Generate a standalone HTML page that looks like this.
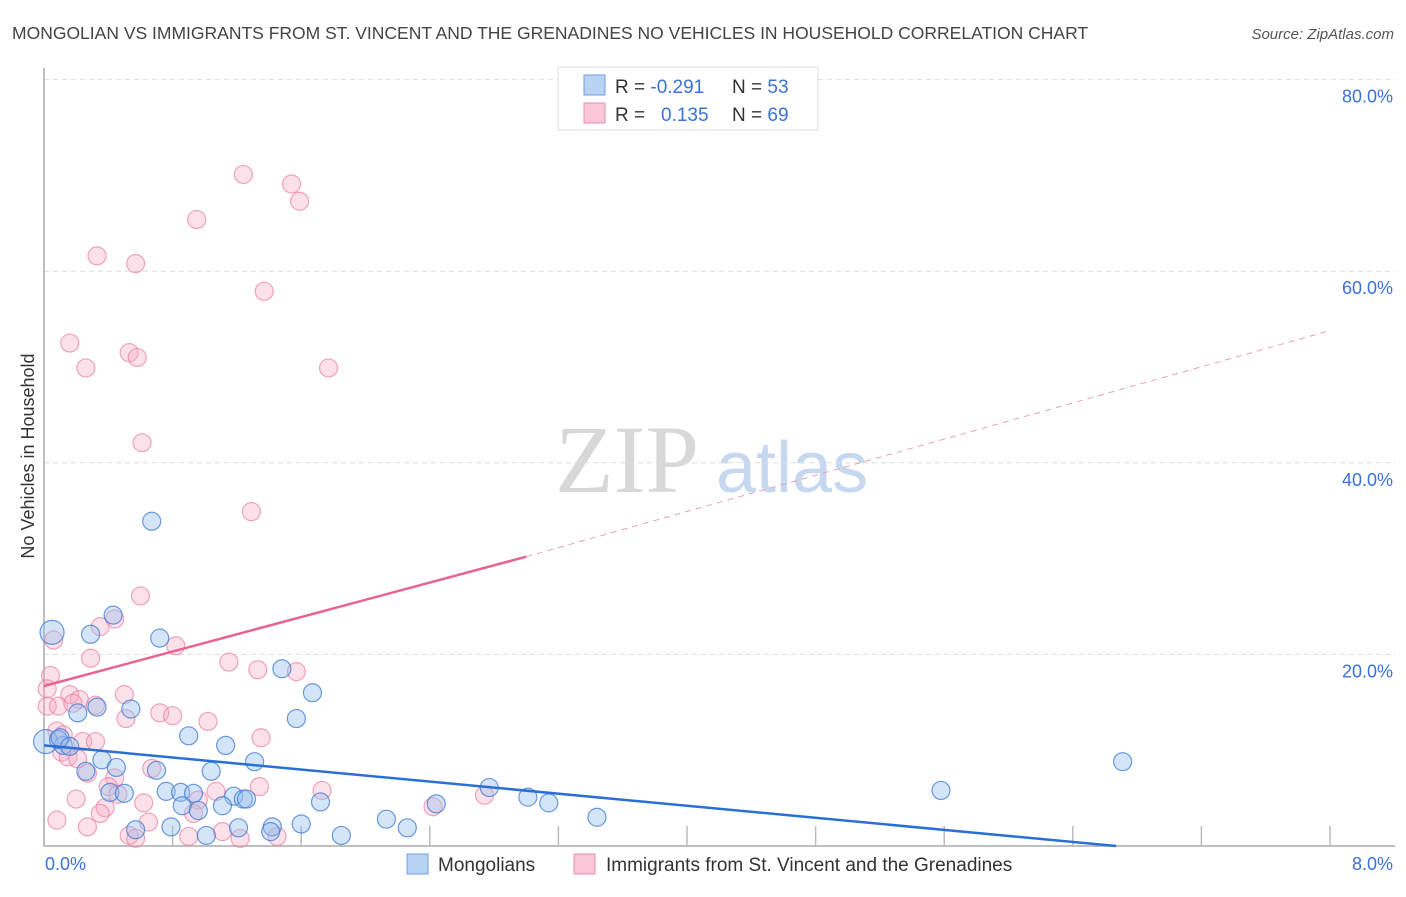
<!DOCTYPE html>
<html><head><meta charset="utf-8"><style>
body{margin:0;background:#fff;font-family:"Liberation Sans",sans-serif;}
svg text{font-family:"Liberation Sans",sans-serif;}
</style></head><body>
<svg id="c" width="1406" height="892" viewBox="0 0 1406 892" xmlns="http://www.w3.org/2000/svg">
<text x="12" y="39" font-size="17.5" fill="#444">MONGOLIAN VS IMMIGRANTS FROM ST. VINCENT AND THE GRENADINES NO VEHICLES IN HOUSEHOLD CORRELATION CHART</text>
<text x="1394" y="39" font-size="15" fill="#555" text-anchor="end" font-style="italic">Source: ZipAtlas.com</text>
<text transform="translate(34,456) rotate(-90)" font-size="18" fill="#333" text-anchor="middle">No Vehicles in Household</text>
<g>
<text x="555" y="492" font-size="96" fill="#d8d8d8" font-family="Liberation Serif,serif" style="font-family:'Liberation Serif',serif">ZIP</text>
<text x="716" y="492" font-size="72" fill="#c5d8f0">atlas</text>
</g>
<g id="grid"></g><g id="axes"></g><g id="marks"></g><g id="lines"></g>
<g>
<rect x="558" y="67" width="260" height="63" fill="#fff" stroke="#ddd"/>
<rect x="584" y="75" width="21" height="20" fill="#b9d3f5" stroke="#6f9ee0"/>
<rect x="584" y="103" width="21" height="20" fill="#fbc6d6" stroke="#ea8fab"/>
<text x="615" y="93" font-size="19" fill="#333">R = <tspan fill="#3a72d8">-0.291</tspan><tspan x="732">N = </tspan><tspan fill="#3a72d8">53</tspan></text>
<text x="615" y="121" font-size="19" fill="#333">R = <tspan x="661" fill="#3a72d8">0.135</tspan><tspan x="732">N = </tspan><tspan fill="#3a72d8">69</tspan></text>
</g>
<g>
<rect x="407" y="854" width="21" height="20" fill="#b9d3f5" stroke="#6f9ee0"/>
<text x="438" y="871" font-size="19" fill="#333">Mongolians</text>
<rect x="574" y="854" width="21" height="20" fill="#fbc6d6" stroke="#ea8fab"/>
<text x="606" y="871" font-size="19" fill="#333">Immigrants from St. Vincent and the Grenadines</text>
</g>
</svg>
<script>
const yTicks=[20,40,60,80];
const yTickLabels=["20.0%","40.0%","60.0%","80.0%"];
const xEndLabels=["0.0%","8.0%"];
const blueX=[0.05,0.01,0.67,0.43,0.29,0.72,1.48,1.67,1.57,0.33,0.21,0.54,0.90,1.13,0.12,0.09,0.36,0.45,0.70,1.04,1.31,0.26,0.41,0.50,0.76,0.85,0.93,1.18,1.24,1.26,1.72,0.86,1.11,0.96,2.44,2.77,3.01,3.14,3.44,2.13,2.26,1.60,1.42,1.41,1.21,1.01,0.79,0.57,1.85,5.58,6.71,0.10,0.16];
const blueY=[22.3,10.9,33.9,24.1,22.1,21.7,18.5,16.0,13.3,14.5,13.9,14.3,11.5,10.5,10.5,11.1,9.0,8.2,7.9,7.8,8.8,7.8,5.6,5.5,5.7,5.6,5.5,5.2,4.9,4.9,4.6,4.2,4.2,3.7,4.4,6.1,5.1,4.5,3.0,2.8,1.9,2.3,2.0,1.5,1.9,1.1,2.0,1.7,1.1,5.8,8.8,11.3,10.4];
const blueR=[12,12,9,9,9,9,9,9,9,9,9,9,9,9,9,9,9,9,9,9,9,9,9,9,9,9,9,9,9,9,9,9,9,9,9,9,9,9,9,9,9,9,9,9,9,9,9,9,9,9,9,9,9];
const pinkX=[1.24,1.54,1.59,0.95,0.33,0.57,1.37,0.16,0.53,0.58,0.26,1.77,0.61,1.29,0.60,0.44,0.06,0.35,0.82,0.29,1.15,1.33,1.57,0.04,0.02,0.16,0.22,0.50,0.02,0.09,0.18,0.32,0.51,0.72,0.80,1.02,1.35,0.08,0.12,0.24,0.32,0.11,0.15,0.21,0.27,0.44,0.67,0.40,0.46,1.07,0.96,1.34,1.73,2.74,2.42,0.20,0.62,0.38,0.35,0.93,0.65,0.27,0.53,0.57,0.90,1.11,1.22,1.45,0.08];
const pinkY=[70.1,69.1,67.3,65.4,61.6,60.8,57.9,52.5,51.5,51.0,49.9,49.9,42.1,34.9,26.1,23.7,21.5,22.9,20.9,19.6,19.2,18.4,18.2,17.8,16.4,15.8,15.3,15.8,14.6,14.6,14.9,14.7,13.3,13.9,13.6,13.0,11.3,12.0,11.6,10.9,10.9,9.8,9.3,9.1,7.6,7.1,8.1,6.2,5.4,5.7,4.8,6.2,5.8,5.3,4.1,4.9,4.5,4.0,3.4,3.4,2.5,2.0,1.1,0.8,1.0,1.5,0.8,1.0,2.7];
const blueTrend=[[0,10.5],[6.67,0]];
const pinkTrendSolid=[[0,16.7],[3.0,30.2]];
const pinkTrendDashed=[[3.0,30.2],[8.0,53.8]];
const NS="http://www.w3.org/2000/svg";
const X0=44,X1=1330,Y0=846,PPY=9.58;
const sx=v=>X0+(X1-X0)*v/8;
const sy=v=>Y0-v*PPY;
function mk(tag,attrs,parent){const e=document.createElementNS(NS,tag);for(const k in attrs)e.setAttribute(k,attrs[k]);document.getElementById(parent).appendChild(e);return e;}
yTicks.forEach((t,i)=>{
 const g=mk('line',{x1:X0,x2:1395,y1:sy(t),y2:sy(t),stroke:'#ddd','stroke-dasharray':'5,4'},'grid');
 
 
 const l=mk('text',{x:1393,y:sy(t)+23,'font-size':18,fill:'#3a72d8','text-anchor':'end'},'axes');
 l.textContent=yTickLabels[i];
 
 
});
const ax=mk('path',{d:`M${X0},68 V${Y0} H1395`,stroke:'#aaa',fill:'none','stroke-width':1.5},'axes');


for(let i=1;i<=10;i++){
 const tk=mk('line',{x1:sx(i*0.8),x2:sx(i*0.8),y1:Y0-20,y2:Y0,stroke:'#bbb','stroke-width':1.5},'axes');
 
 
}
[[0,'start',45],[8,'end',1393]].forEach((d,i)=>{
 const t=mk('text',{x:d[2],y:870,'font-size':18,fill:'#3a72d8','text-anchor':d[1]},'axes');
 t.textContent=xEndLabels[i];
 
 
});
pinkX.forEach((x,i)=>{
 const c=mk('circle',{cx:sx(x),cy:sy(pinkY[i]),r:9,fill:'rgba(246,170,195,0.35)',stroke:'rgba(232,130,160,0.7)','stroke-width':1.2},'marks');
 
 
});
blueX.forEach((x,i)=>{
 const c=mk('circle',{cx:sx(x),cy:sy(blueY[i]),r:blueR[i],fill:'rgba(150,190,240,0.4)',stroke:'rgba(60,120,210,0.75)','stroke-width':1.2},'marks');
 
 
});
function ln(p,col,w,dash,name){
 const a={x1:sx(p[0][0]),y1:sy(p[0][1]),x2:sx(p[1][0]),y2:sy(p[1][1]),stroke:col,'stroke-width':w};
 if(dash)a['stroke-dasharray']=dash;
 const l=mk('line',a,'lines');
 
 
}
ln(blueTrend,'#2a6fd6',2.5,null,'mongolian-trend-line');
ln(pinkTrendSolid,'#e8648e',2.5,null,'immigrant-trend-line');
ln(pinkTrendDashed,'#eaa0b8',1,'6,5','immigrant-trend-extension');
</script>
</body></html>
